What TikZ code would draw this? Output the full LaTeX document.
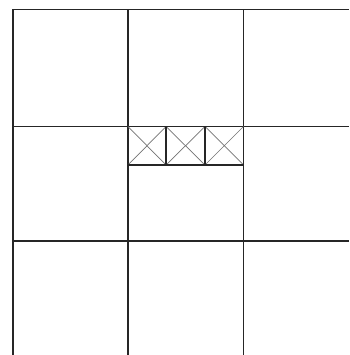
\documentclass[tikz,border=0pt]{standalone}
\begin{document}
\begin{tikzpicture}[x=1pt,y=-1pt,
  gridline/.style={line width=1.3pt,black!85},
  boxline/.style={line width=1.3pt,black!85},
  diag/.style={line width=0.7pt,black!55}]
\useasboundingbox (0,0) rectangle (349,355);
\fill[white] (0,0) rectangle (349,355);
% grid
\draw[gridline] (13,355) -- (13,9.5) -- (349,9.5);
\draw[gridline] (128,9.5) -- (128,355);
\draw[gridline] (243.5,9.5) -- (243.5,355);
\draw[gridline] (13,126.5) -- (349,126.5);
\draw[gridline] (13,241) -- (349,241);
% crossed boxes
\foreach \a/\b in {128/166,166/205,205/243.5}{
  \draw[diag] (\a,126.5) -- (\b,165) (\a,165) -- (\b,126.5);
}
\draw[boxline] (128,165) -- (243.5,165);
\draw[boxline] (166,126.5) -- (166,165);
\draw[boxline] (205,126.5) -- (205,165);
\end{tikzpicture}
\end{document}
